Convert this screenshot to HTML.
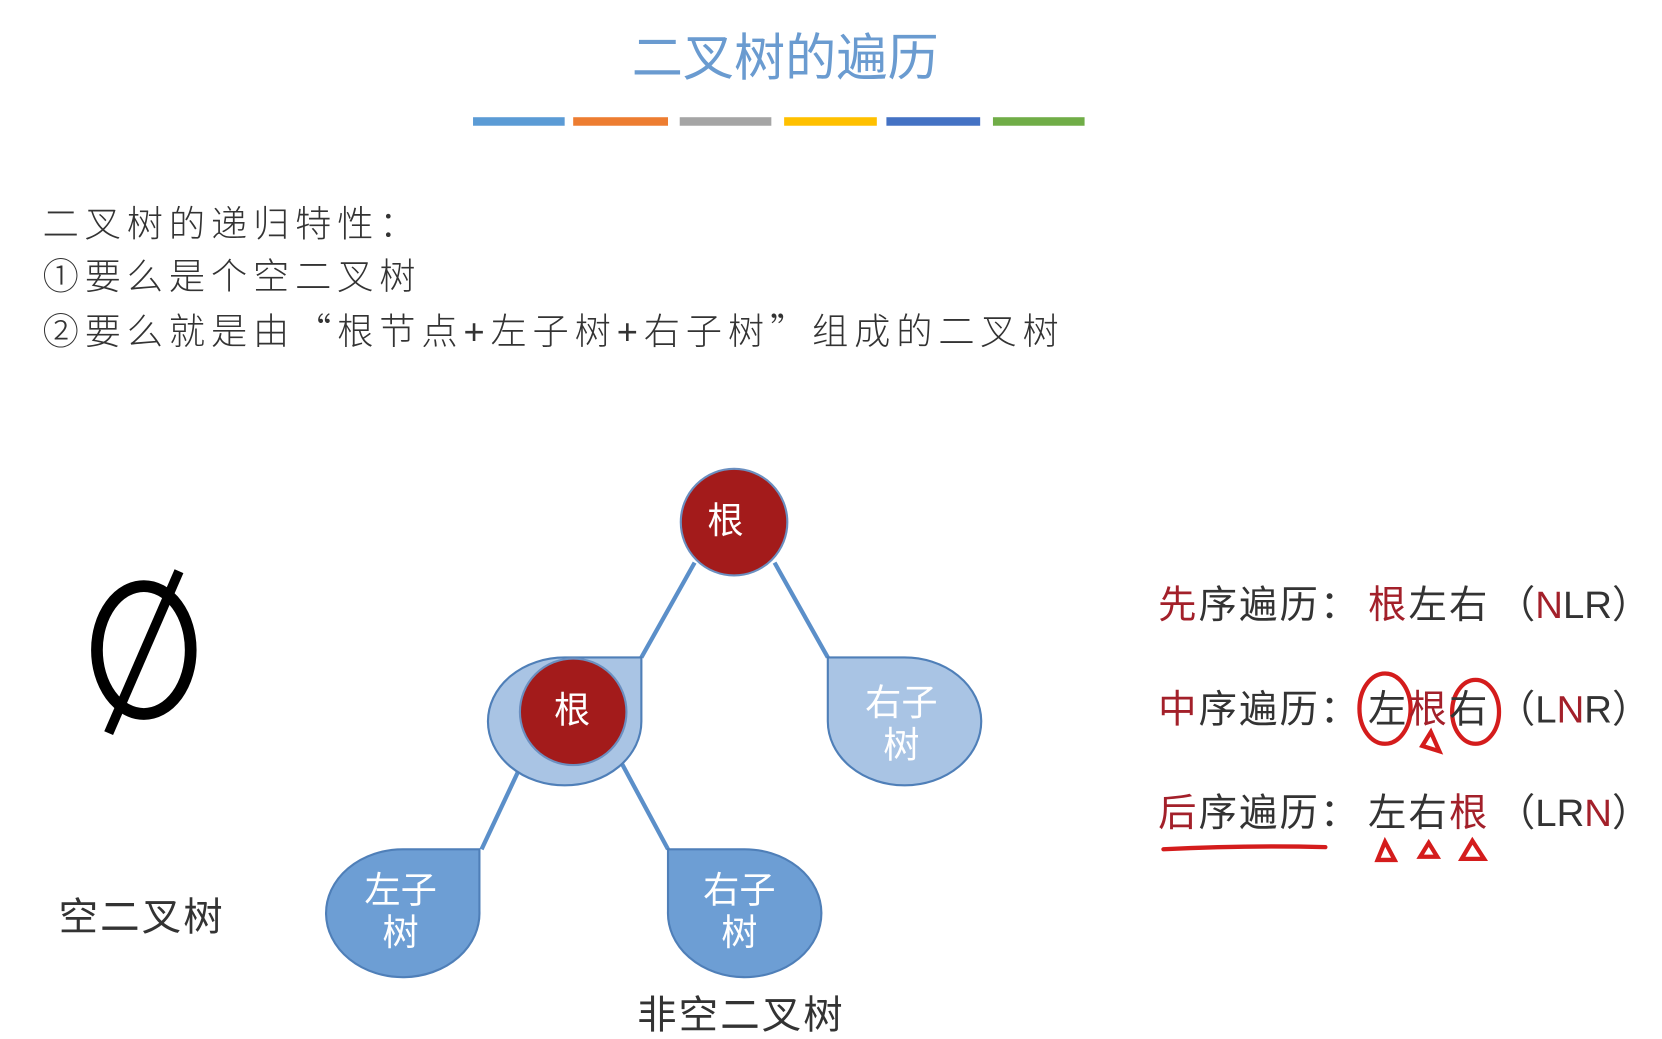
<!DOCTYPE html>
<html><head><meta charset="utf-8"><style>
html,body{margin:0;padding:0;background:#fff;overflow:hidden}
#c{position:absolute;left:0;top:0;width:1560px;height:975px;transform:scale(1.0654,1.0656);transform-origin:0 0;font-family:"Liberation Sans","Noto Sans CJK SC",sans-serif;color:#222}
.t{position:absolute;white-space:nowrap;line-height:1}
.r{color:#a3202a}
.q{font-family:"Noto Sans CJK SC",sans-serif}
.b{font-size:34px;color:#333;letter-spacing:5.5px;font-weight:300}
</style></head><body><div id="c">
<div class="t" style="left:0;width:1474px;text-align:center;top:32px;font-size:48px;color:#6a9bd0">二叉树的遍历</div>
<div style="position:absolute;top:110px;left:444px;width:86px;height:8px;background:#5b9bd5"></div>
<div style="position:absolute;top:110px;left:538px;width:89px;height:8px;background:#ed7d31"></div>
<div style="position:absolute;top:110px;left:638px;width:86px;height:8px;background:#a5a5a5"></div>
<div style="position:absolute;top:110px;left:736px;width:87px;height:8px;background:#ffc000"></div>
<div style="position:absolute;top:110px;left:832px;width:88px;height:8px;background:#4472c4"></div>
<div style="position:absolute;top:110px;left:932px;width:86px;height:8px;background:#70ad47"></div>

<div class="t b" style="left:40px;top:194px">二叉树的递归特性：</div>
<div class="t b" style="left:40px;top:243px">①要么是个空二叉树</div>
<div class="t b" style="left:40px;top:292px">②要么就是由<span class="q">“</span>根节点+左子树+右子树<span class="q">”</span>组成的二叉树</div>

<div class="t" style="left:55px;top:842px;font-size:37px;color:#333;letter-spacing:2px">空二叉树</div>
<div class="t" style="left:598px;top:934px;font-size:37px;color:#333;letter-spacing:2px">非空二叉树</div>

<svg width="1560" height="975" style="position:absolute;left:0;top:0">
<ellipse cx="135" cy="610" rx="44" ry="60" fill="none" stroke="#000" stroke-width="11"/>
<line x1="102" y1="688" x2="168" y2="536" stroke="#000" stroke-width="9"/>
<g stroke="#5b8fc9" stroke-width="4">
<line x1="652" y1="528" x2="602" y2="617"/><line x1="727" y1="528" x2="777" y2="617"/>
<line x1="492" y1="712" x2="452" y2="797"/><line x1="578" y1="706" x2="627" y2="797"/>
</g>
<g stroke="#4f7fb8" stroke-width="2">
<path d="M602,617 L602,677 A72,60 0 1 1 530,617 Z" fill="#a9c4e4"/>
<path d="M777,617 L848,617 A72,60 0 1 1 777,677 Z" fill="#a9c4e4"/>
<path d="M450,797 L450,855 A72,60 0 1 1 378,797 Z" fill="#6d9ed4"/>
<path d="M627,797 L697,797 A72,60 0 1 1 627,855 Z" fill="#6d9ed4"/>
</g>
<circle cx="689" cy="490" r="50" fill="#a31b1b" stroke="#6b8fc0" stroke-width="2"/>
<circle cx="538" cy="668" r="50" fill="#a31b1b" stroke="#6b8fc0" stroke-width="2"/>
<g fill="none" stroke="#d41c1c" stroke-width="4" stroke-linecap="round">
<ellipse cx="1300" cy="665" rx="24" ry="33"/>
<ellipse cx="1385" cy="668" rx="22" ry="30"/>
<path d="M1335,700 L1343,687 L1351,705 Z"/>
<path d="M1293,807 L1300,790 L1309,807 Z"/>
<path d="M1333,804 L1341,791 L1349,804 Z"/>
<path d="M1372,806 L1382,789 L1393,806 Z"/>
<path d="M1092,797 Q1170,793 1244,795"/>
</g>
</svg>
<div class="t" style="left:664px;top:472px;font-size:34px;color:#fff">根</div>
<div class="t" style="left:520px;top:650px;font-size:34px;color:#fff">根</div>
<div class="t" style="left:812px;top:640px;font-size:34px;color:#fff;text-align:center;line-height:40px">右子<br>树</div>
<div class="t" style="left:342px;top:816px;font-size:34px;color:#fff;text-align:center;line-height:40px">左子<br>树</div>
<div class="t" style="left:660px;top:816px;font-size:34px;color:#fff;text-align:center;line-height:40px">右子<br>树</div>

<div class="t" style="left:1087px;top:550px;font-size:36px;color:#333;letter-spacing:2px"><span class="r">先</span>序遍历：</div>
<div class="t" style="left:1284px;top:550px;font-size:36px;color:#333;letter-spacing:2px"><span class="r">根</span>左右</div>
<div class="t" style="left:1405px;top:550px;font-size:36px;color:#333">（<span class="r">N</span>LR）</div>
<div class="t" style="left:1087px;top:648px;font-size:36px;color:#333;letter-spacing:2px"><span class="r">中</span>序遍历：</div>
<div class="t" style="left:1284px;top:648px;font-size:36px;color:#333;letter-spacing:2px">左<span class="r">根</span>右</div>
<div class="t" style="left:1405px;top:648px;font-size:36px;color:#333">（L<span class="r">N</span>R）</div>
<div class="t" style="left:1087px;top:745px;font-size:36px;color:#333;letter-spacing:2px"><span class="r">后</span>序遍历：</div>
<div class="t" style="left:1284px;top:745px;font-size:36px;color:#333;letter-spacing:2px">左右<span class="r">根</span></div>
<div class="t" style="left:1405px;top:745px;font-size:36px;color:#333">（LR<span class="r">N</span>）</div>
</div></body></html>
